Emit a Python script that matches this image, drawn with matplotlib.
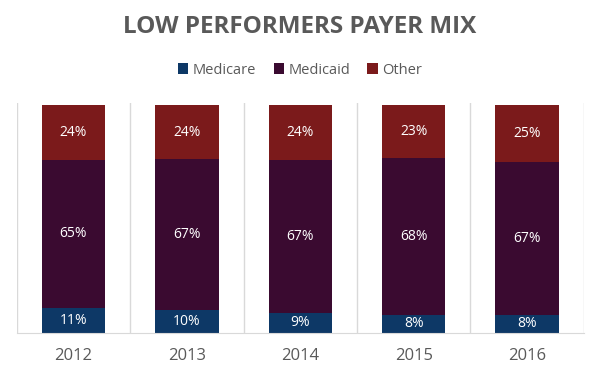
import matplotlib.pyplot as plt
import numpy as np

years = ["2012", "2013", "2014", "2015", "2016"]
medicare = [11, 10, 9, 8, 8]
medicaid = [65, 67, 67, 68, 67]
other = [24, 24, 24, 23, 25]

series = [("Medicare", medicare, "#0d3866"),
          ("Medicaid", medicaid, "#3a0a30"),
          ("Other", other, "#7b1a1b")]

plt.rcParams["font.family"] = ["Open Sans", "DejaVu Sans"]

fig = plt.figure(figsize=(6, 3.75), dpi=100)
ax = fig.add_axes([0.028, 0.112, 0.945, 0.613])

x = np.arange(len(years))
totals = np.sum([s[1] for s in series], axis=0)
bottom = np.zeros(len(years))
for name, vals, color in series:
    # 100% stacked: scale each column to its total
    h = np.array(vals) / totals * 100
    ax.bar(x, h, 0.56, bottom=bottom, color=color, label=name, zorder=2)
    for xi, b, hi, v in zip(x, bottom, h, vals):
        ax.text(xi, b + hi / 2, f"{v}%", ha="center", va="center",
                color="white", fontsize=10, zorder=3)
    bottom += h

ax.set_xlim(-0.5, len(years) - 0.5)
ax.set_ylim(0, 101)
ax.set_yticks([])
ax.set_xticks(x)
ax.set_xticklabels(years, fontsize=12, color="#595959")
ax.tick_params(axis="x", length=0, pad=11)

# vertical separators between categories
for b in np.arange(-0.5, len(years), 1.0):
    ax.axvline(b, color="#d9d9d9", lw=1, zorder=1)

for side in ["top", "left", "right"]:
    ax.spines[side].set_visible(False)
ax.spines["bottom"].set_color("#d9d9d9")

fig.text(0.5, 0.927, "LOW PERFORMERS PAYER MIX", ha="center", va="center",
         fontsize=17.5, fontweight="bold", color="#595959")
fig.legend(loc="center", bbox_to_anchor=(0.5, 0.813), ncol=3, frameon=False,
           fontsize=10.5, handlelength=0.7, handleheight=0.7, handletextpad=0.3,
           columnspacing=1.2, labelcolor="#595959")

fig.savefig("out.png")
